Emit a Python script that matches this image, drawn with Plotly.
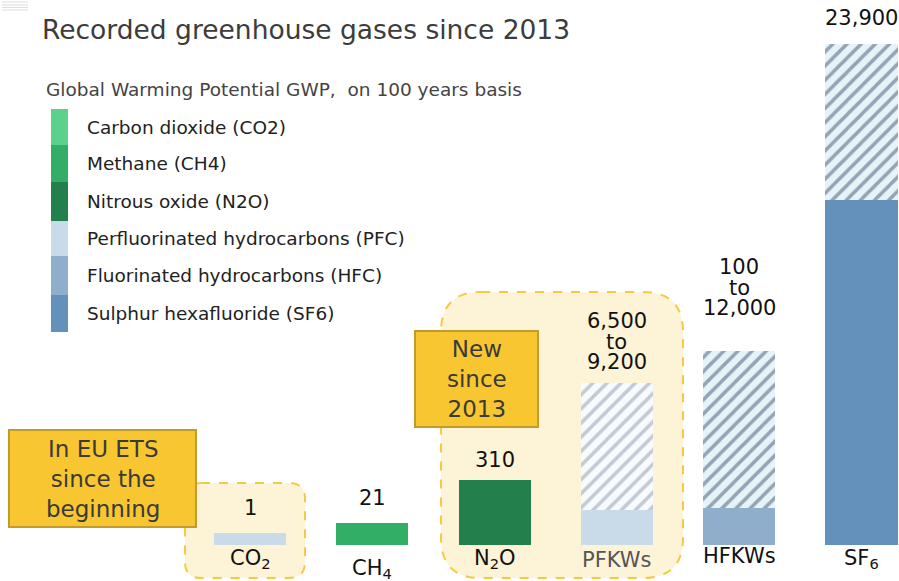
import plotly.graph_objects as go

# ---------------- data ----------------
categories = ["CO2", "CH4", "N2O", "PFKWs", "HFKWs", "SF6"]
category_labels = ["CO<sub>2</sub>", "CH<sub>4</sub>", "N<sub>2</sub>O", "PFKWs", "HFKWs", "SF<sub>6</sub>"]
# drawn bar heights (infographic, not to scale)
solid_height = [12, 22, 65, 35, 37, 345]
hatch_height = [0, 0, 0, 127, 157, 156]
gwp_labels = [["1"], ["21"], ["310"], ["6,500", "to", "9,200"], ["100", "to", "12,000"], ["23,900"]]
legend_labels = ["Carbon dioxide (CO2)", "Methane (CH4)", "Nitrous oxide (N2O)",
                 "Perfluorinated hydrocarbons (PFC)", "Fluorinated hydrocarbons (HFC)",
                 "Sulphur hexafluoride (SF6)"]
title_text = "Recorded greenhouse gases since 2013"
legend_title = "Global Warming Potential GWP,&nbsp; on 100 years basis"
callout_texts = ["In EU ETS<br>since the<br>beginning", "New<br>since<br>2013"]

# ---------------- styles ----------------
W, H = 899, 581
FONT = "DejaVu Sans"
bar_colors = ["#C9DAE8", "#33AE66", "#23804D", "#C9DAE8", "#8FAECB", "#6490BC"]
legend_colors = ["#5AD18C", "#33AE66", "#23804D", "#C9DAE8", "#8FAECB", "#6490BC"]
hatch_fg = ["#C4CAD5", "#C4CAD5", "#C4CAD5", "#C4CAD5", "#93A5B5", "#93A5B5"]
hatch_bg = ["#F8FBFE", "#F8FBFE", "#F8FBFE", "#F8FBFE", "#E6F3F8", "#E6F3F8"]
label_colors = ["#111", "#111", "#111", "#555", "#111", "#111"]


def px(x):
    return x / W


def py(y):
    return 1 - y / H


def rrect(x0, y0, x1, y1, r):
    def P(x, y):
        return f"{px(x):.5f},{py(y):.5f}"
    return (f"M {P(x0 + r, y0)} L {P(x1 - r, y0)} Q {P(x1, y0)} {P(x1, y0 + r)} "
            f"L {P(x1, y1 - r)} Q {P(x1, y1)} {P(x1 - r, y1)} "
            f"L {P(x0 + r, y1)} Q {P(x0, y1)} {P(x0, y1 - r)} "
            f"L {P(x0, y0 + r)} Q {P(x0, y0)} {P(x0 + r, y0)} Z")


fig = go.Figure()
fig.add_trace(go.Bar(
    x=categories, y=solid_height, width=0.59,
    marker=dict(color=bar_colors, line=dict(width=0)),
    hoverinfo="skip", showlegend=False))
for i, cat in enumerate(categories):
    if hatch_height[i] <= 0:
        continue
    fig.add_trace(go.Bar(
        x=[cat], y=[hatch_height[i]], base=[solid_height[i]], width=0.59,
        marker=dict(color=hatch_bg[i], line=dict(width=0),
                    pattern=dict(shape="/", fgcolor=hatch_fg[i], fgopacity=1,
                                 size=10, solidity=0.35, fillmode="overlay")),
        hoverinfo="skip", showlegend=False))

shapes = []
annotations = []

# hamburger-ish lines top-left
for yy in [2, 5, 7.5, 10]:
    shapes.append(dict(type="line", xref="paper", yref="paper",
                       x0=px(2), x1=px(28), y0=py(yy), y1=py(yy),
                       line=dict(color="#DDDDDD", width=1)))

# dashed rounded boxes
for (x0, y0, x1, y1, r) in [(185, 483, 305, 578, 16), (441, 292, 683, 578, 40)]:
    shapes.append(dict(type="path", xref="paper", yref="paper", layer="below",
                       path=rrect(x0, y0, x1, y1, r), fillcolor="#FDF3D7",
                       line=dict(color="#F7C843", width=2, dash="dash")))

# callouts
for (x0, y0, x1, y1), txt in zip([(9, 430, 196, 527), (415, 331, 538, 427)], callout_texts):
    shapes.append(dict(type="rect", xref="paper", yref="paper", layer="above",
                       x0=px(x0), x1=px(x1), y0=py(y1), y1=py(y0),
                       fillcolor="#F8C630", line=dict(color="#C39A2C", width=2)))
    annotations.append(dict(xref="paper", yref="paper", x=px((x0 + x1) / 2), y=py((y0 + y1) / 2),
                            text=txt, showarrow=False, xanchor="center", yanchor="middle",
                            font=dict(family=FONT, size=23, color="#3A3A3A")))

# legend strip
seg = [109, 145, 182, 221, 256, 295, 332]
for i, (lab, col) in enumerate(zip(legend_labels, legend_colors)):
    shapes.append(dict(type="rect", xref="paper", yref="paper",
                       x0=px(51), x1=px(68), y0=py(seg[i + 1]), y1=py(seg[i]),
                       fillcolor=col, line=dict(width=0)))
    annotations.append(dict(xref="paper", yref="paper", x=px(85), y=py((seg[i] + seg[i + 1]) / 2),
                            text=lab, showarrow=False, xanchor="left", yanchor="middle",
                            font=dict(family=FONT, size=18.5, color="#222")))

annotations.append(dict(xref="paper", yref="paper", x=px(44), y=py(89), text=legend_title,
                        showarrow=False, xanchor="left", yanchor="middle",
                        font=dict(family=FONT, size=18.5, color="#444")))
annotations.append(dict(xref="paper", yref="paper", x=px(40), y=py(30), text=title_text,
                        showarrow=False, xanchor="left", yanchor="middle",
                        font=dict(family=FONT, size=26.5, color="#3C3C3C")))

# value labels above bars (gap from bar top to centre of lowest line, in px)
label_gap = [25, 25, 20, 21, 43, 26]
for i, cat in enumerate(categories):
    top = solid_height[i] + hatch_height[i]
    lines = gwp_labels[i]
    n = len(lines)
    for j, ln in enumerate(lines):
        annotations.append(dict(x=cat, y=top, xref="x", yref="y", text=ln, showarrow=False,
                                xanchor="center", yanchor="middle",
                                yshift=label_gap[i] + (n - 1 - j) * 20.5,
                                font=dict(family=FONT, size=21, color="#111")))

# category labels below bars
cat_shift = [-14, -24, -14, -15, -11, -14]
for i, cat in enumerate(categories):
    annotations.append(dict(x=cat, y=0, xref="x", yref="y", text=category_labels[i], showarrow=False,
                            xanchor="center", yanchor="middle", yshift=cat_shift[i],
                            font=dict(family=FONT, size=21, color=label_colors[i])))

x0_px, step_px = 250, 122.3
x_left = -x0_px / step_px
x_right = (W - x0_px) / step_px
fig.update_layout(
    width=W, height=H, autosize=False,
    margin=dict(l=0, r=0, t=0, b=0, pad=0),
    paper_bgcolor="white", plot_bgcolor="rgba(0,0,0,0)",
    barmode="overlay", bargap=0,
    xaxis=dict(type="category", categoryorder="array", categoryarray=categories,
               range=[x_left, x_right], visible=False, fixedrange=True),
    yaxis=dict(range=[-(H - 545), 545], visible=False, fixedrange=True),
    shapes=shapes, annotations=annotations,
    showlegend=False,
)

fig.write_html("out.html", config={"displayModeBar": False},
               post_script="document.body.style.margin='0';document.body.style.overflow='hidden';")
